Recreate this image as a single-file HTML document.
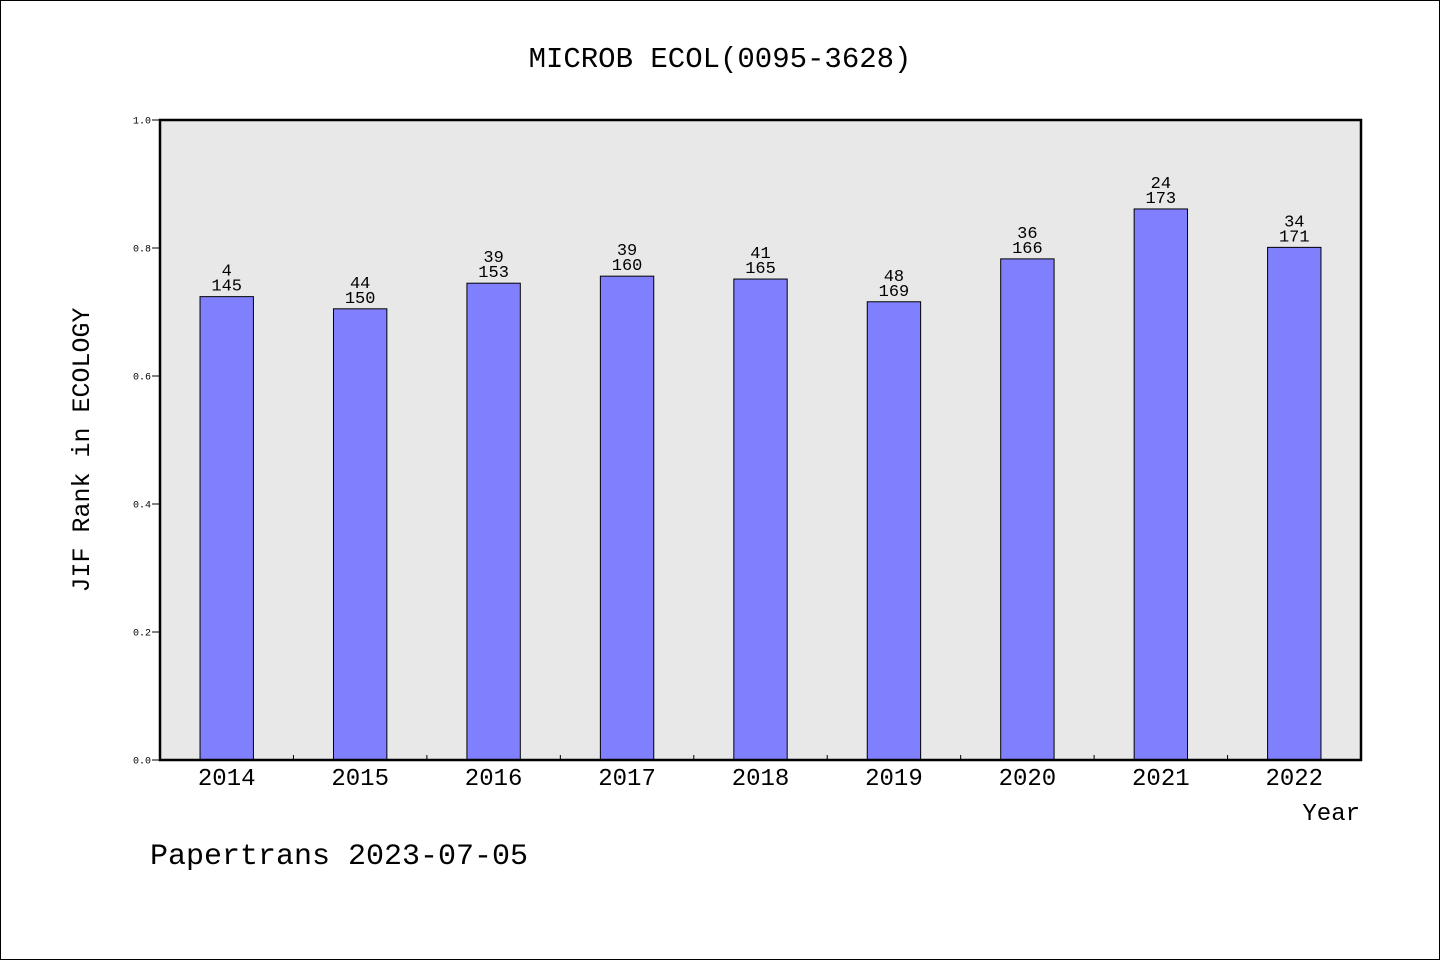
<!DOCTYPE html>
<html><head><meta charset="utf-8"><style>
body{margin:0;background:#fff}
svg text{font-family:"Liberation Mono","WenQuanYi Zen Hei",monospace;fill:#000}
</style></head><body>
<svg width="1440" height="960" xmlns="http://www.w3.org/2000/svg">
<rect x="0.5" y="0.5" width="1439" height="959" fill="#fff" stroke="#000"/>
<text x="720" y="67" font-size="29" text-anchor="middle">MICROB ECOL(0095-3628)</text>
<rect x="160" y="120" width="1201" height="640" fill="#e8e8e8"/>
<g id="marks"></g>
<rect x="160" y="120" width="1201" height="640" fill="none" stroke="#000" stroke-width="2.5"/>
<text transform="translate(89,450) rotate(-90)" font-size="25" text-anchor="middle">JIF Rank in ECOLOGY</text>
<text x="1360" y="820" font-size="24" text-anchor="end">Year</text>
<text x="150" y="864" font-size="30">Papertrans 2023-07-05</text>
</svg>
<script>
const years=["2014","2015","2016","2017","2018","2019","2020","2021","2022"];
const values=[0.724,0.705,0.745,0.756,0.7515,0.716,0.783,0.861,0.801];
const ranks=["4","44","39","39","41","48","36","24","34"];
const totals=["145","150","153","160","165","169","166","173","171"];
const yTicks=[0,0.2,0.4,0.6,0.8,1.0];
const NS="http://www.w3.org/2000/svg";
const X0=160,W=1201,Y0=760,H=640;
const band=W/years.length;
const xc=i=>X0+band*(i+0.5);
const ys=v=>Y0-v*H;
const g=document.getElementById('marks');
const svg=document.querySelector('svg');
function mk(tag,attrs,parent){const e=document.createElementNS(NS,tag);for(const k in attrs)e.setAttribute(k,attrs[k]);(parent||g).appendChild(e);return e;}
years.forEach((y,i)=>{
  const bw=band*0.4;
  const r=mk('rect',{x:xc(i)-bw/2,y:ys(values[i]),width:bw,height:Y0-ys(values[i]),fill:'#8080ff',stroke:'#000','stroke-width':1});
  
  
  const t1=mk('text',{x:xc(i),y:ys(values[i])-21,'font-size':17,'text-anchor':'middle'});t1.textContent=ranks[i];
  
  
  const t2=mk('text',{x:xc(i),y:ys(values[i])-6,'font-size':17,'text-anchor':'middle'});t2.textContent=totals[i];
  
  
  const xl=mk('text',{x:xc(i),y:785,'font-size':24,'text-anchor':'middle'},svg);xl.textContent=y;
  
  
  if(i>0){const tk=mk('line',{x1:X0+band*i,x2:X0+band*i,y1:Y0,y2:Y0-5,stroke:'#000'},svg);
  
  }
});
yTicks.forEach(v=>{
  const l=mk('line',{x1:152,x2:160,y1:ys(v),y2:ys(v),stroke:'#000'},svg);
  
  
  const t=mk('text',{x:151,y:ys(v)+3.5,'font-size':10,'text-anchor':'end'},svg);t.textContent=v.toFixed(1);
  
  
});
</script>
</body></html>
